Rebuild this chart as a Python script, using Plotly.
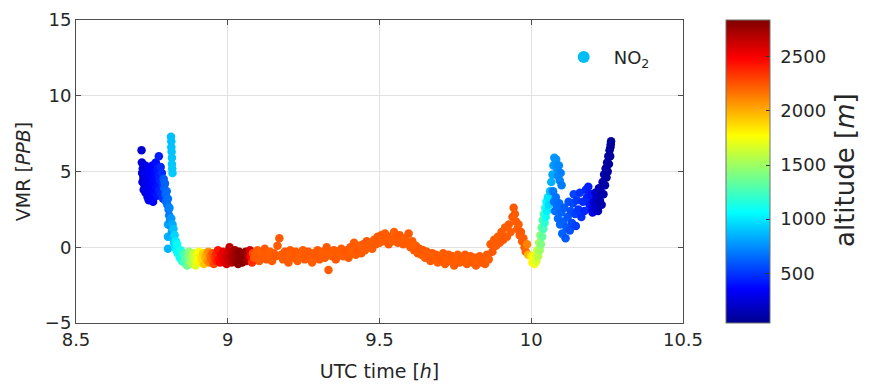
import plotly.graph_objects as go

# NO2 volume mixing ratio along the flight, coloured by aircraft altitude.
# Each flight phase is kept in its own set of arrays (time [h], VMR [ppb], altitude [m]).

# climb-out near the ground
climb_t = [8.716, 8.717, 8.718, 8.719, 8.720, 8.722, 8.723, 8.725, 8.726, 8.728,
           8.729, 8.731, 8.733, 8.734, 8.736, 8.737, 8.739, 8.740, 8.742, 8.744,
           8.745, 8.747, 8.749, 8.750, 8.752, 8.754, 8.756, 8.757, 8.759, 8.761,
           8.763, 8.765, 8.767, 8.769, 8.771, 8.773, 8.775, 8.777, 8.779, 8.781,
           8.783, 8.785, 8.787]
climb_vmr = [6.4, 5.6, 4.9, 4.3, 5.2, 4.6, 3.8, 5.0, 4.1, 5.4,
             3.6, 4.7, 5.1, 4.0, 3.3, 4.4, 5.3, 3.1, 4.8, 3.9,
             5.0, 4.2, 3.5, 4.6, 5.4, 3.0, 4.3, 3.7, 5.0, 4.5,
             5.6, 4.0, 3.4, 5.2, 4.7, 6.0, 3.8, 4.4, 5.3, 3.5,
             4.9, 4.1, 3.2]
climb_alt = [230, 235, 240, 245, 250, 255, 260, 265, 270, 275,
             280, 285, 290, 295, 300, 305, 310, 315, 320, 325,
             330, 335, 340, 345, 350, 355, 360, 365, 370, 375,
             380, 390, 400, 410, 420, 430, 440, 450, 460, 470,
             480, 490, 500]

# short plume encountered during the climb
plume_t = [8.813, 8.814, 8.814, 8.815, 8.816, 8.816, 8.817, 8.818]
plume_vmr = [7.3, 7.0, 6.6, 6.3, 5.9, 5.5, 5.2, 4.9]
plume_alt = [880, 885, 890, 895, 900, 905, 910, 915]

# leaving the boundary layer
exit_t = [8.789, 8.791, 8.793, 8.795, 8.797, 8.799, 8.801, 8.803, 8.803, 8.803,
          8.803, 8.805, 8.807, 8.808, 8.810, 8.812, 8.814, 8.816, 8.818, 8.819,
          8.821, 8.823, 8.825, 8.827, 8.829, 8.831, 8.833, 8.835]
exit_vmr = [4.5, 3.9, 4.2, 3.5, 3.0, 3.7, 2.8, 3.2, 1.5, 0.7,
            -0.1, 2.5, 2.1, 2.6, 1.8, 1.4, 1.9, 1.0, 1.5, 0.6,
            1.2, 0.3, 0.8, 0.0, 0.4, -0.2, 0.2, -0.4]
exit_alt = [600, 610, 620, 630, 640, 650, 660, 670, 820, 840,
            860, 690, 700, 720, 740, 760, 780, 800, 830, 860,
            890, 920, 950, 980, 1010, 1040, 1070, 1100]

# ascent to the top of the profile
ascent_t = [8.838, 8.842, 8.845, 8.849, 8.852, 8.856, 8.859, 8.863, 8.866, 8.870,
            8.873, 8.877, 8.880, 8.884, 8.887, 8.891, 8.894, 8.898, 8.901, 8.905,
            8.908, 8.912, 8.915, 8.919, 8.922, 8.926, 8.929, 8.933, 8.936, 8.940,
            8.943, 8.947, 8.950, 8.954, 8.957, 8.961, 8.964, 8.968, 8.971, 8.975,
            8.978, 8.982, 8.985, 8.989, 8.992, 8.996, 8.999, 9.003, 9.006, 9.010,
            9.013, 9.017, 9.020, 9.024, 9.027, 9.031, 9.034, 9.038, 9.041, 9.045,
            9.048, 9.052, 9.055, 9.059, 9.062, 9.066, 9.069, 9.073, 9.076, 9.080,
            9.083, 9.087, 9.090]
ascent_vmr = [-0.3, -0.7, -0.2, -0.9, -0.5, -1.0, -0.4, -0.8, -1.2, -0.6,
              -0.3, -1.0, -0.7, -1.1, -0.4, -0.8, -1.2, -0.5, -0.9, -0.3,
              -1.0, -0.6, -0.8, -0.4, -1.1, -0.7, -0.5, -0.9, -0.3, -1.0,
              -0.6, -0.8, -0.4, -1.1, -0.7, -0.5, -0.9, -0.2, -0.8, -1.0,
              -0.5, -0.7, -0.3, -0.9, -0.6, -1.1, -0.4, -0.8, 0.0, -0.6,
              -1.0, -0.4, -0.7, -0.2, -0.9, -0.5, -1.1, -0.3, -0.8, -0.6,
              -1.0, -0.4, -0.7, -0.3, -0.9, -0.5, -0.8, -0.2, -0.6, -1.0,
              -0.4, -0.7, -0.5]
ascent_alt = [1060, 1090, 1120, 1160, 1200, 1240, 1280, 1320, 1360, 1400,
              1440, 1480, 1520, 1560, 1600, 1640, 1680, 1720, 1750, 1780,
              1800, 1830, 1860, 1890, 1930, 1970, 2010, 2050, 2090, 2130,
              2170, 2210, 2250, 2290, 2330, 2370, 2400, 2430, 2460, 2490,
              2500, 2520, 2540, 2560, 2580, 2600, 2620, 2640, 2660, 2680,
              2690, 2700, 2720, 2740, 2760, 2780, 2800, 2810, 2820, 2820,
              2820, 2810, 2800, 2790, 2770, 2740, 2690, 2600, 2480, 2370,
              2290, 2250, 2230]

# level leg
cruise_t = [9.092, 9.098, 9.104, 9.110, 9.116, 9.122, 9.128, 9.134, 9.140, 9.146,
            9.152, 9.158, 9.164, 9.170, 9.176, 9.182, 9.188, 9.194, 9.200, 9.206,
            9.212, 9.218, 9.224, 9.230, 9.236, 9.242, 9.248, 9.254, 9.260, 9.266,
            9.272, 9.278, 9.284, 9.290, 9.296, 9.302, 9.308, 9.314, 9.320, 9.326,
            9.332, 9.338, 9.344, 9.350, 9.356, 9.362, 9.368, 9.374, 9.380, 9.386,
            9.392, 9.398, 9.404, 9.410, 9.416, 9.422, 9.428, 9.434, 9.440, 9.446,
            9.452, 9.458, 9.464, 9.470, 9.476, 9.482, 9.488, 9.494, 9.500, 9.506,
            9.512, 9.518, 9.524, 9.530, 9.536, 9.542, 9.548, 9.554, 9.560, 9.566,
            9.572, 9.578, 9.584, 9.590, 9.596, 9.602, 9.608, 9.614, 9.620, 9.626,
            9.632, 9.638, 9.644, 9.650, 9.656, 9.662, 9.668, 9.674, 9.680, 9.686,
            9.692, 9.698, 9.704, 9.710, 9.716, 9.722, 9.728, 9.734, 9.740, 9.746,
            9.752, 9.758, 9.764, 9.770, 9.776, 9.782, 9.788, 9.794, 9.800, 9.806,
            9.812, 9.818, 9.824, 9.830, 9.836, 9.842, 9.848, 9.854, 9.860, 9.866,
            9.872, 9.878, 9.884, 9.890, 9.896, 9.902, 9.908, 9.914, 9.920, 9.926,
            9.932, 9.938, 9.942, 9.946, 9.950, 9.954, 9.958, 9.962, 9.966, 9.970,
            9.974, 9.978, 9.982, 9.986, 9.990]
cruise_vmr = [-0.6, -0.2, -0.9, -0.4, -0.7, -0.1, -0.8, -0.5, -0.3, -0.9,
              -0.4, -0.6, 0.1, 0.6, -0.5, -0.8, -0.3, -0.6, -1.0, -0.2,
              -0.5, -0.7, -0.3, -0.9, -0.4, -0.6, -0.2, -0.8, -0.5, -0.3,
              -0.7, -1.0, -0.4, -0.6, -0.2, -0.8, -0.5, -0.3, -0.7, 0.0,
              -1.5, -0.4, -0.6, -0.2, -0.8, -0.3, -0.5, -0.1, -0.6, -0.4,
              -0.2, -0.7, 0.0, -0.3, 0.3, -0.5, -0.1, 0.1, -0.4, 0.2,
              -0.2, 0.4, 0.0, 0.3, -0.1, 0.5, 0.2, 0.7, 0.3, 0.8,
              0.4, 0.9, 0.5, 0.2, 0.7, 0.4, 1.0, 0.6, 0.3, 0.8,
              0.5, 0.2, 0.6, 0.3, 0.9, 0.0, 0.4, -0.2, 0.1, -0.4,
              -0.1, -0.5, -0.2, -0.7, -0.3, -0.6, -0.9, -0.4, -0.7, -0.5,
              -1.0, -0.6, -0.8, -0.4, -1.1, -0.7, -0.5, -0.9, -0.6, -1.2,
              -0.8, -0.5, -1.0, -0.7, -0.9, -0.5, -1.1, -0.8, -0.6, -1.0,
              -0.7, -1.2, -0.9, -0.6, -1.0, -0.8, -1.1, -0.5, -0.8, 0.2,
              -0.3, 0.5, 0.1, 0.7, 0.3, 1.0, 0.5, 1.3, 0.7, 1.5,
              1.0, 2.0, 2.6, 2.2, 1.7, 1.2, 1.5, 0.8, 1.0, 0.4,
              0.6, 0.0, -0.3, 0.2, -0.5]
cruise_alt = [2240, 2230, 2230, 2220, 2230, 2240, 2230, 2230, 2220, 2230,
              2230, 2240, 2230, 2230, 2220, 2230, 2240, 2230, 2230, 2230,
              2220, 2230, 2240, 2230, 2230, 2220, 2230, 2230, 2240, 2230,
              2230, 2220, 2230, 2240, 2230, 2230, 2230, 2220, 2230, 2240,
              2230, 2230, 2220, 2230, 2240, 2230, 2230, 2230, 2220, 2230,
              2240, 2230, 2230, 2220, 2230, 2230, 2240, 2230, 2230, 2220,
              2230, 2240, 2230, 2230, 2230, 2220, 2230, 2240, 2230, 2230,
              2220, 2230, 2230, 2240, 2230, 2230, 2220, 2230, 2230, 2240,
              2230, 2230, 2220, 2230, 2240, 2230, 2230, 2230, 2220, 2230,
              2240, 2230, 2230, 2220, 2230, 2230, 2240, 2230, 2230, 2230,
              2220, 2230, 2240, 2230, 2230, 2220, 2230, 2230, 2240, 2230,
              2230, 2220, 2230, 2240, 2230, 2230, 2230, 2220, 2230, 2240,
              2230, 2230, 2220, 2230, 2240, 2230, 2230, 2230, 2220, 2230,
              2240, 2230, 2230, 2220, 2230, 2230, 2240, 2230, 2230, 2230,
              2220, 2230, 2240, 2230, 2230, 2220, 2230, 2230, 2240, 2230,
              2230, 2220, 2200, 2120, 1980]

# descent back through the mixed layer
descent_t = [10.000, 10.004, 10.008, 10.011, 10.014, 10.017, 10.020, 10.023, 10.026, 10.028,
             10.030, 10.032, 10.034, 10.036, 10.038, 10.040, 10.042, 10.044, 10.046, 10.048,
             10.050, 10.052, 10.055, 10.058]
descent_vmr = [-0.6, -1.0, -0.7, -1.1, -0.5, -0.9, -0.2, -0.6, 0.3, -0.2,
               0.8, 0.2, 1.3, 0.7, 1.8, 1.2, 2.2, 1.6, 2.6, 2.0,
               3.0, 2.4, 3.3, 2.8]
descent_alt = [1830, 1800, 1770, 1740, 1700, 1660, 1620, 1580, 1540, 1500,
               1460, 1420, 1380, 1340, 1300, 1260, 1220, 1180, 1140, 1100,
               1060, 1020, 990, 960]

# approach, upper part
approach_hi_t = [10.062, 10.066, 10.070, 10.073, 10.076, 10.079, 10.082, 10.085, 10.088, 10.091,
                 10.094, 10.097, 10.100]
approach_hi_vmr = [3.7, 4.3, 4.8, 5.4, 5.9, 5.5, 5.8, 5.2, 4.7, 5.4,
                   4.4, 4.9, 4.1]
approach_hi_alt = [880, 850, 820, 800, 780, 770, 760, 750, 740, 730,
                   720, 710, 700]

# approach, middle part
approach_mid_t = [10.072, 10.075, 10.078, 10.081, 10.085, 10.088, 10.092, 10.095, 10.099, 10.102,
                  10.106, 10.109, 10.113, 10.116, 10.120, 10.123, 10.127, 10.130, 10.134, 10.137,
                  10.140, 10.144, 10.147]
approach_mid_vmr = [3.7, 3.0, 2.4, 3.3, 2.7, 1.9, 2.9, 1.5, 2.3, 0.9,
                    1.7, 2.6, 0.6, 1.3, 2.0, 3.0, 1.1, 2.4, 1.6, 2.9,
                    3.5, 2.2, 1.4]
approach_mid_alt = [690, 680, 670, 670, 660, 650, 650, 640, 630, 620,
                    620, 610, 600, 600, 590, 580, 570, 570, 560, 550,
                    540, 530, 520]

# approach, lower part
approach_lo_t = [10.150, 10.155, 10.160, 10.165, 10.170, 10.175, 10.180, 10.184, 10.188, 10.192,
                 10.196, 10.200]
approach_lo_vmr = [3.1, 2.5, 3.6, 2.0, 3.0, 2.4, 3.8, 3.3, 4.0, 2.8,
                   3.5, 2.5]
approach_lo_alt = [510, 500, 490, 480, 470, 460, 450, 440, 430, 420,
                   400, 380]

# final approach and landing
landing_t = [10.202, 10.205, 10.208, 10.211, 10.214, 10.217, 10.220, 10.223, 10.226, 10.229,
             10.232, 10.235, 10.238, 10.240, 10.243, 10.245, 10.248, 10.250, 10.252, 10.254,
             10.256, 10.258, 10.260, 10.262, 10.263, 10.261]
landing_vmr = [2.3, 3.0, 2.6, 3.6, 2.9, 3.3, 2.4, 3.9, 3.1, 3.7,
               2.8, 4.3, 3.5, 4.8, 4.1, 5.2, 4.6, 5.6, 5.0, 6.0,
               5.5, 6.4, 6.0, 6.8, 7.0, 6.6]
landing_alt = [300, 260, 230, 200, 180, 170, 160, 150, 140, 130,
               125, 120, 115, 110, 105, 100, 95, 90, 88, 85,
               82, 80, 78, 75, 72, 74]

phases = [
    (climb_t, climb_vmr, climb_alt),
    (plume_t, plume_vmr, plume_alt),
    (exit_t, exit_vmr, exit_alt),
    (ascent_t, ascent_vmr, ascent_alt),
    (cruise_t, cruise_vmr, cruise_alt),
    (descent_t, descent_vmr, descent_alt),
    (approach_hi_t, approach_hi_vmr, approach_hi_alt),
    (approach_mid_t, approach_mid_vmr, approach_mid_alt),
    (approach_lo_t, approach_lo_vmr, approach_lo_alt),
    (landing_t, landing_vmr, landing_alt),
]

utc, vmr, alt = [], [], []
for t_, v_, a_ in phases:
    if not (len(t_) == len(v_) == len(a_)):
        raise ValueError("phase arrays differ in length: %d %d %d" % (len(t_), len(v_), len(a_)))
    utc += t_
    vmr += v_
    alt += a_

x_ticks = [8.5, 9, 9.5, 10, 10.5]
x_labels = ["8.5", "9", "9.5", "10", "10.5"]
y_ticks = [-5, 0, 5, 10, 15]
alt_ticks = [500, 1000, 1500, 2000, 2500]
alt_labels = [" 500", " 1000", " 1500", " 2000", " 2500"]

# MATLAB-style jet colormap
jet = [
    [0.000, "rgb(0,0,143)"],
    [0.111, "rgb(0,0,255)"],
    [0.365, "rgb(0,255,255)"],
    [0.619, "rgb(255,255,0)"],
    [0.873, "rgb(255,0,0)"],
    [1.000, "rgb(128,0,0)"],
]

FONT = "DejaVu Sans"
TXT = "#262626"
AX = "#4d4d4d"

fig = go.Figure()

fig.add_trace(go.Scatter(
    x=utc, y=vmr, mode="markers", showlegend=False,
    marker=dict(
        size=8.5, color=alt, colorscale=jet, cmin=40, cmax=2840,
        line=dict(width=0),
        colorbar=dict(
            x=1.0708, xanchor="left", xpad=0,
            y=0.5, yanchor="middle", ypad=0,
            len=1, lenmode="fraction",
            thickness=44, thicknessmode="pixels",
            outlinewidth=1, outlinecolor="#707070",
            tickvals=alt_ticks, ticktext=alt_labels,
            ticks="inside", ticklen=4, tickcolor="#333333",
            tickfont=dict(family=FONT, size=18, color=TXT),
        ),
    ),
))

# legend entry
fig.add_trace(go.Scatter(
    x=[None], y=[None], mode="markers", name="NO<sub>2</sub>",
    marker=dict(size=12, color="#00BEF5"),
))

# colour bar label
fig.add_annotation(
    text="altitude [<i>m</i>]", textangle=-90,
    xref="paper", yref="paper", x=1.2669, y=0.505,
    xanchor="center", yanchor="middle", showarrow=False,
    font=dict(family=FONT, size=26, color=TXT),
)

fig.update_layout(
    width=869, height=386,
    margin=dict(l=76, r=186, t=20, b=63, pad=0, autoexpand=False),
    paper_bgcolor="white", plot_bgcolor="white",
    font=dict(family=FONT, size=18, color=TXT),
    legend=dict(x=0.787, y=0.877, xanchor="left", yanchor="middle",
                itemwidth=50,
                bgcolor="rgba(0,0,0,0)", borderwidth=0,
                font=dict(family=FONT, size=18, color=TXT)),
)

fig.update_xaxes(
    range=[8.5, 10.5], tickvals=x_ticks, ticktext=x_labels, automargin=False,
    showgrid=True, gridcolor="#e2e2e2", gridwidth=1, zeroline=False,
    showline=True, linecolor=AX, linewidth=1, mirror="ticks",
    ticks="inside", ticklen=5, tickcolor=AX,
    tickfont=dict(family=FONT, size=18, color=TXT),
    title=dict(text="UTC time [<i>h</i>]", font=dict(family=FONT, size=19, color=TXT), standoff=16),
)
fig.update_yaxes(
    range=[-5, 15], tickvals=y_ticks, automargin=False,
    showgrid=True, gridcolor="#e2e2e2", gridwidth=1, zeroline=False,
    showline=True, linecolor=AX, linewidth=1, mirror="ticks",
    ticks="inside", ticklen=5, tickcolor=AX,
    tickfont=dict(family=FONT, size=18, color=TXT),
    title=dict(text="VMR [<i>PPB</i>]", font=dict(family=FONT, size=19, color=TXT), standoff=9),
)

fig.write_html("out.html")
